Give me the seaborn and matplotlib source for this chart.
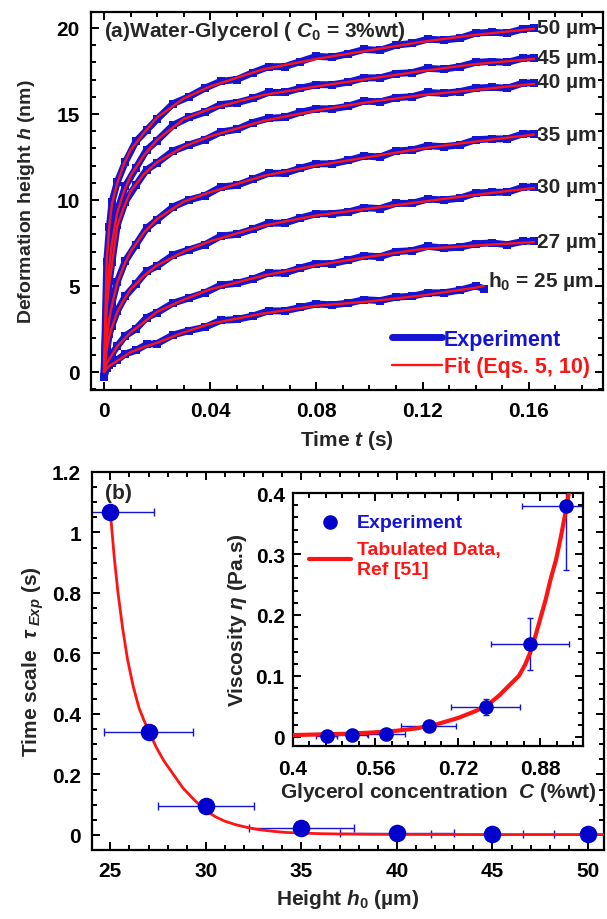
import numpy as np
import pandas as pd
import matplotlib
matplotlib.use("Agg")
import matplotlib.pyplot as plt
import seaborn as sns
from matplotlib.ticker import MultipleLocator, FuncFormatter

# ---- panel (a): deformation height vs time ----
t_fit = [0, 0.001, 0.002, 0.003, 0.005, 0.0075, 0.01, 0.015, 0.02, 0.03, 0.04,
         0.06, 0.08, 0.10, 0.12, 0.14, 0.162]
t_fit_25 = [0, 0.001, 0.002, 0.003, 0.005, 0.0075, 0.01, 0.015, 0.02, 0.03, 0.04,
            0.06, 0.08, 0.10, 0.12, 0.14, 0.143]
fit_50 = [0, 6.5, 8.5, 9.8, 11.0, 12.1, 12.9, 13.9, 14.8, 15.9, 16.6, 17.6, 18.2, 18.7, 19.2, 19.6, 19.95]
fit_45 = [0, 4.5, 6.2, 7.5, 9.3, 10.5, 11.4, 12.6, 13.5, 14.7, 15.3, 16.1, 16.6, 17.05, 17.5, 17.9, 18.2]
fit_40 = [0, 3.8, 5.2, 6.3, 8.5, 9.6, 10.5, 11.5, 12.2, 13.1, 13.7, 14.6, 15.2, 15.7, 16.1, 16.4, 16.75]
fit_35 = [0, 2.0, 3.1, 3.9, 5.2, 6.2, 7.0, 8.1, 8.9, 9.9, 10.45, 11.4, 12.0, 12.5, 13.0, 13.4, 13.8]
fit_30 = [0, 1.3, 2.1, 2.6, 3.5, 4.2, 4.8, 5.6, 6.2, 7.0, 7.6, 8.5, 9.1, 9.5, 9.9, 10.3, 10.7]
fit_27 = [0, 0.5, 0.75, 1.0, 1.5, 1.9, 2.3, 2.9, 3.5, 4.2, 4.8, 5.6, 6.2, 6.7, 7.15, 7.35, 7.55]
fit_25 = [0, 0.2, 0.35, 0.45, 0.65, 0.9, 1.15, 1.45, 1.7, 2.3, 2.8, 3.4, 3.85, 4.1, 4.45, 4.9, 5.0]

t_exp = [0, 0.001, 0.002, 0.003, 0.005, 0.008, 0.012, 0.016, 0.02, 0.026, 0.032, 0.038,
         0.044, 0.05, 0.056, 0.062, 0.068, 0.074, 0.08, 0.086, 0.092, 0.098, 0.104, 0.11,
         0.116, 0.122, 0.128, 0.134, 0.14, 0.146, 0.152, 0.158, 0.162]
t_exp_25 = t_exp[:29] + [0.143]
exp_50 = [-0.3, 6.4, 8.4, 9.9, 11.05, 12.2, 13.4, 14.05, 14.7, 15.6, 16.0, 16.5, 16.9, 17.0, 17.4,
          17.75, 17.75, 18.05, 18.35, 18.3, 18.5, 18.75, 18.7, 19.0, 19.1, 19.35, 19.3, 19.4, 19.7,
          19.75, 19.7, 19.95, 20.0]
exp_45 = [-0.3, 4.4, 6.3, 7.4, 9.35, 10.8, 11.85, 12.9, 13.45, 14.35, 14.8, 15.1, 15.55, 15.65, 15.9,
          16.25, 16.25, 16.5, 16.7, 16.7, 16.85, 17.1, 17.1, 17.35, 17.4, 17.65, 17.6, 17.75, 18.0,
          18.05, 18.0, 18.25, 18.25]
exp_40 = [-0.3, 3.7, 5.3, 6.4, 8.55, 9.9, 10.85, 11.75, 12.15, 12.85, 13.2, 13.5, 13.95, 14.1, 14.5,
          14.75, 14.8, 15.1, 15.3, 15.3, 15.45, 15.75, 15.7, 15.95, 16.0, 16.25, 16.2, 16.3, 16.5,
          16.55, 16.5, 16.8, 16.8]
exp_35 = [-0.3, 1.9, 3.2, 4.0, 5.25, 6.45, 7.4, 8.35, 8.85, 9.6, 10.0, 10.25, 10.75, 10.85, 11.2,
          11.55, 11.55, 11.85, 12.1, 12.1, 12.3, 12.55, 12.5, 12.85, 12.9, 13.15, 13.1, 13.2, 13.5,
          13.55, 13.55, 13.85, 13.85]
exp_30 = [-0.3, 1.2, 2.2, 2.7, 3.55, 4.4, 5.1, 5.85, 6.15, 6.8, 7.1, 7.4, 7.9, 8.0, 8.3,
          8.65, 8.65, 8.95, 9.2, 9.2, 9.3, 9.55, 9.5, 9.8, 9.8, 10.05, 10.0, 10.1, 10.4,
          10.45, 10.45, 10.75, 10.75]
exp_27 = [-0.3, 0.5, 0.8, 1.05, 1.5, 2.1, 2.5, 3.15, 3.45, 4.0, 4.3, 4.6, 5.05, 5.15, 5.4,
          5.75, 5.75, 6.05, 6.3, 6.3, 6.5, 6.75, 6.7, 7.0, 7.05, 7.3, 7.2, 7.25, 7.45,
          7.5, 7.4, 7.6, 7.6]
exp_25 = [-0.3, 0.25, 0.4, 0.5, 0.7, 1.05, 1.25, 1.6, 1.65, 2.15, 2.4, 2.6, 3.0, 3.05, 3.25,
          3.55, 3.55, 3.75, 3.95, 3.9, 4.0, 4.2, 4.15, 4.35, 4.4, 4.6, 4.6, 4.75, 5.0, 4.85]

curve_labels = ["50 µm", "45 µm", "40 µm", "35 µm", "30 µm", "27 µm", "h$_0$ = 25 µm"]
label_t = [0.163, 0.163, 0.163, 0.163, 0.163, 0.163, 0.1445]
label_h = [20.05, 18.3, 16.9, 13.8, 10.8, 7.6, 5.3]

# ---- panel (b): time scale vs height ----
h0 = [25, 27, 30, 35, 40, 45, 50]
tau = [1.067, 0.340, 0.097, 0.022, 0.006, 0.002, 0.002]
h0_err = [2.3, 2.35, 2.5, 2.75, 3.0, 3.2, 3.4]
h_curve = [25, 25.2, 25.4, 25.65, 25.9, 26.2, 26.5, 26.75, 27, 27.4, 27.8, 28.3, 28.8, 29.4,
           30, 30.5, 31, 31.6, 32.2, 32.8, 33.5, 34.2, 35, 36, 37, 38.5, 40, 45, 50.8]
tau_curve = [1.067, 0.92, 0.80, 0.68, 0.58, 0.49, 0.42, 0.38, 0.345, 0.29, 0.245, 0.20, 0.155,
             0.115, 0.080, 0.060, 0.045, 0.033, 0.024, 0.017, 0.012, 0.008, 0.006, 0.004,
             0.003, 0.002, 0.0015, 0.001, 0.001]

# ---- inset: viscosity vs glycerol concentration ----
conc = [0.465, 0.515, 0.580, 0.663, 0.774, 0.860, 0.929]
visc = [0.002, 0.003, 0.004, 0.018, 0.049, 0.152, 0.378]
conc_err = [0.02, 0.03, 0.037, 0.054, 0.067, 0.076, 0.084]
visc_err = [0.001, 0.001, 0.002, 0.004, 0.013, 0.043, 0.105]
conc_tab = [0.40, 0.45, 0.50, 0.55, 0.60, 0.64, 0.68, 0.72, 0.75, 0.774, 0.80, 0.82, 0.838,
            0.85, 0.86, 0.87, 0.88, 0.89, 0.90, 0.91, 0.92, 0.93, 0.937]
visc_tab = [0.003, 0.004, 0.005, 0.007, 0.010, 0.014, 0.021, 0.031, 0.041, 0.050, 0.068, 0.085,
            0.100, 0.118, 0.138, 0.165, 0.195, 0.225, 0.26, 0.29, 0.33, 0.375, 0.41]

BLUE = "#1414d2"
PT_BLUE = "#0000cc"
RED = "#ff1414"

sns.set_style("ticks")
plt.rcParams["font.family"] = ["Liberation Sans", "DejaVu Sans"]
plt.rcParams["font.weight"] = "bold"
plt.rcParams["axes.labelweight"] = "bold"
plt.rcParams["mathtext.fontset"] = "custom"
plt.rcParams["mathtext.rm"] = "Liberation Sans:bold"
plt.rcParams["mathtext.bf"] = "Liberation Sans:bold"
plt.rcParams["mathtext.it"] = "Liberation Sans:italic:bold"
plt.rcParams["mathtext.sf"] = "Liberation Sans:bold"


def style_axes(ax, fs=15, pad=8):
    for s in ax.spines.values():
        s.set_linewidth(1.6)
        s.set_color("black")
    ax.tick_params(which="both", direction="in", top=True, right=True, width=1.4, colors="black")
    ax.tick_params(which="major", length=6, labelsize=fs, pad=pad)
    ax.tick_params(which="minor", length=3.5)


fmt = FuncFormatter(lambda v, p: "0" if abs(v) < 1e-9 else f"{v:g}")

fig = plt.figure(figsize=(6.07, 9.2), dpi=100)

# ---------------- panel (a) ----------------
ax1 = fig.add_axes([0.150, 0.575, 0.8434, 0.4109])
exp_sets = [(t_exp, exp_50), (t_exp, exp_45), (t_exp, exp_40), (t_exp, exp_35),
            (t_exp, exp_30), (t_exp, exp_27), (t_exp_25, exp_25)]
fit_sets = [(t_fit, fit_50), (t_fit, fit_45), (t_fit, fit_40), (t_fit, fit_35),
            (t_fit, fit_30), (t_fit, fit_27), (t_fit_25, fit_25)]
for i, (tx, hx) in enumerate(exp_sets):
    sns.lineplot(x=tx, y=hx, ax=ax1, color=BLUE, linewidth=5, sort=False,
                 marker="s", markersize=5.5, markeredgewidth=0,
                 label="Experiment" if i == 0 else None, legend=False)
for i, (tx, hx) in enumerate(fit_sets):
    sns.lineplot(x=tx, y=hx, ax=ax1, color=RED, linewidth=1.7, sort=False,
                 label="Fit (Eqs. 5, 10)" if i == 0 else None, legend=False)

for lab, lt, lh in zip(curve_labels, label_t, label_h):
    ax1.text(lt, lh, lab, ha="left", va="center", fontsize=15, fontweight="bold")

ax1.text(0.025, 0.952, "(a)Water-Glycerol ( $C_0$ = 3%wt)", transform=ax1.transAxes,
         ha="left", va="center", fontsize=15, fontweight="bold")

ax1.set_xlim(-0.0049, 0.188)
ax1.set_ylim(-1.05, 20.93)
ax1.xaxis.set_major_locator(MultipleLocator(0.04))
ax1.xaxis.set_minor_locator(MultipleLocator(0.01))
ax1.yaxis.set_major_locator(MultipleLocator(5))
ax1.yaxis.set_minor_locator(MultipleLocator(1))
ax1.xaxis.set_major_formatter(fmt)
ax1.yaxis.set_major_formatter(fmt)
style_axes(ax1)
ax1.set_xlabel("Time $t$ (s)", fontsize=15, labelpad=6)
ax1.set_ylabel("Deformation height $h$ (nm)", fontsize=14, labelpad=14)
leg1 = ax1.legend(loc="lower right", frameon=False, fontsize=15.5, handlelength=2.3,
                  handletextpad=0.1, labelspacing=0.3, borderaxespad=0.2,
                  labelcolor="linecolor")
for h in leg1.legend_handles:
    h.set_marker("")

# ---------------- panel (b) ----------------
ax2 = fig.add_axes([0.1516, 0.075, 0.8434, 0.4109])
ax2.errorbar(h0, tau, xerr=h0_err, fmt="none", ecolor=BLUE, elinewidth=1.0,
             capsize=3, capthick=1.0, zorder=2)
sns.lineplot(x=h_curve, y=tau_curve, ax=ax2, color=RED, linewidth=2.0, sort=False, zorder=3)
sns.scatterplot(x=h0, y=tau, ax=ax2, color=PT_BLUE, s=160, edgecolor=PT_BLUE, linewidth=0, zorder=4)
ax2.set_xlim(24.04, 50.84)
ax2.set_ylim(-0.05, 1.2)
ax2.xaxis.set_major_locator(MultipleLocator(5))
ax2.xaxis.set_minor_locator(MultipleLocator(1))
ax2.yaxis.set_major_locator(MultipleLocator(0.2))
ax2.yaxis.set_minor_locator(MultipleLocator(0.05))
ax2.xaxis.set_major_formatter(fmt)
ax2.yaxis.set_major_formatter(fmt)
style_axes(ax2)
ax2.set_xlabel("Height $h_0$ (µm)", fontsize=15, labelpad=5)
ax2.set_ylabel(r"Time scale  $\tau_{\ Exp}$ (s)", fontsize=15, labelpad=4)
ax2.text(0.025, 0.947, "(b)", transform=ax2.transAxes, ha="left", va="center",
         fontsize=15, fontweight="bold")

# ---------------- inset ----------------
ax3 = fig.add_axes([0.4827, 0.188, 0.4778, 0.275])
ax3.errorbar(conc, visc, xerr=conc_err, yerr=visc_err, fmt="none", ecolor=BLUE,
             elinewidth=1.0, capsize=2.5, capthick=1.0, zorder=2)
sns.lineplot(x=conc_tab, y=visc_tab, ax=ax3, color=RED, linewidth=3.0, sort=False,
             zorder=3, label="Tabulated Data,\nRef [51]", legend=False)
sns.scatterplot(x=conc, y=visc, ax=ax3, color=PT_BLUE, s=110, linewidth=0, zorder=4,
                label="Experiment", legend=False)
ax3.set_xlim(0.4, 0.9625)
ax3.set_ylim(-0.015, 0.4)
ax3.xaxis.set_major_locator(MultipleLocator(0.16, offset=0.4))
ax3.xaxis.set_minor_locator(MultipleLocator(0.032, offset=0.4))
ax3.yaxis.set_major_locator(MultipleLocator(0.1))
ax3.yaxis.set_minor_locator(MultipleLocator(0.02))
ax3.xaxis.set_major_formatter(fmt)
ax3.yaxis.set_major_formatter(fmt)
style_axes(ax3)
ax3.tick_params(axis="x", which="major", pad=9)
ax3.tick_params(axis="y", which="major", pad=6)
ax3.set_xlabel("Glycerol concentration  $C$ (%wt)", fontsize=15, labelpad=2)
ax3.set_ylabel(r"Viscosity $\eta$ (Pa.s)", fontsize=15, labelpad=5)
hs, ls = ax3.get_legend_handles_labels()
leg3 = ax3.legend(hs[::-1], ls[::-1], loc="upper left", frameon=False, fontsize=14,
                  handlelength=2.2, handletextpad=0.3, labelspacing=0.5,
                  borderaxespad=0.4, bbox_to_anchor=(0.0, 0.98))
for txt, c in zip(leg3.get_texts(), [BLUE, RED]):
    txt.set_color(c)

fig.savefig("out.png", dpi=100)
